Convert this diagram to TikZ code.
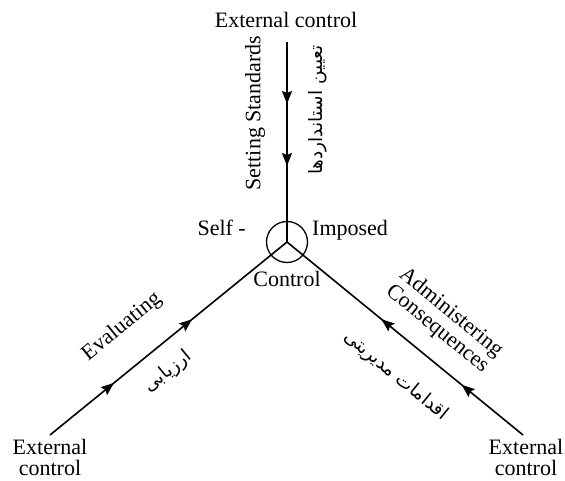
\documentclass[tikz,border=0pt]{standalone}
\usepackage{fontspec}
\setmainfont{Liberation Serif}
\newfontfamily\arabicfont[Script=Arabic]{DejaVu Sans}
\TeXXeTstate=1
\usetikzlibrary{arrows.meta,decorations.markings}
\newcommand\mytip{\arrow{Stealth[length=13pt,width=10pt,inset=2pt]}}
\begin{document}
\begin{tikzpicture}[x=1pt,y=-1pt,
  lbl/.style={inner sep=0pt,font=\fontsize{22}{21.5}\selectfont},
  fa/.style={inner sep=0pt,font=\arabicfont\fontsize{18.5}{20}\selectfont},
  ln/.style={line width=1.6pt},
  twoarr/.style n args={2}{decoration={markings,
      mark=at position #1 with {\mytip},
      mark=at position #2 with {\mytip}},postaction={decorate}}
]
\useasboundingbox (0,0) rectangle (565,481);
\coordinate (C) at (287,242);
\coordinate (T) at (287,42);
\coordinate (L) at (50,435);
\coordinate (R) at (523,435);
\node[draw,circle,line width=1.3pt,minimum size=41pt,inner sep=0pt] (circ) at (C) {};
\draw[ln,twoarr={0.31}{0.62}] (T) -- (C);
\draw[ln,twoarr={0.27}{0.60}] (L) -- (C);
\draw[ln,twoarr={0.26}{0.60}] (R) -- (C);
% labels
\node[lbl,anchor=base] (top) at (286,28) {External control};
\node[lbl,anchor=north,align=center] (bl) at (50,439) {External\\control};
\node[lbl,anchor=north,align=center] (br) at (526,439) {External\\control};
\node[lbl,anchor=base east] (self) at (246,236) {Self -};
\node[lbl,anchor=base west] (imp) at (312,236) {Imposed};
\node[lbl,anchor=base] (ctl) at (287,287) {Control};
\node[lbl,rotate=90] (ss) at (255,113) {Setting Standards};
\node[fa,rotate=90] (ssfa) at (318,110) {\beginR تعیین استانداردها\endR};
\node[lbl,rotate=39.2] (ev) at (122,327) {Evaluating};
\node[fa,rotate=39.2] (evfa) at (168,372) {\beginR ارزیابی\endR};
\node[lbl,rotate=-39.3,align=center] (ac) at (444,321) {Administering\\Consequences};
\node[fa,rotate=-39.3] (acfa) at (396,376) {\beginR اقدامات مدیریتی\endR};
\end{tikzpicture}
\end{document}
